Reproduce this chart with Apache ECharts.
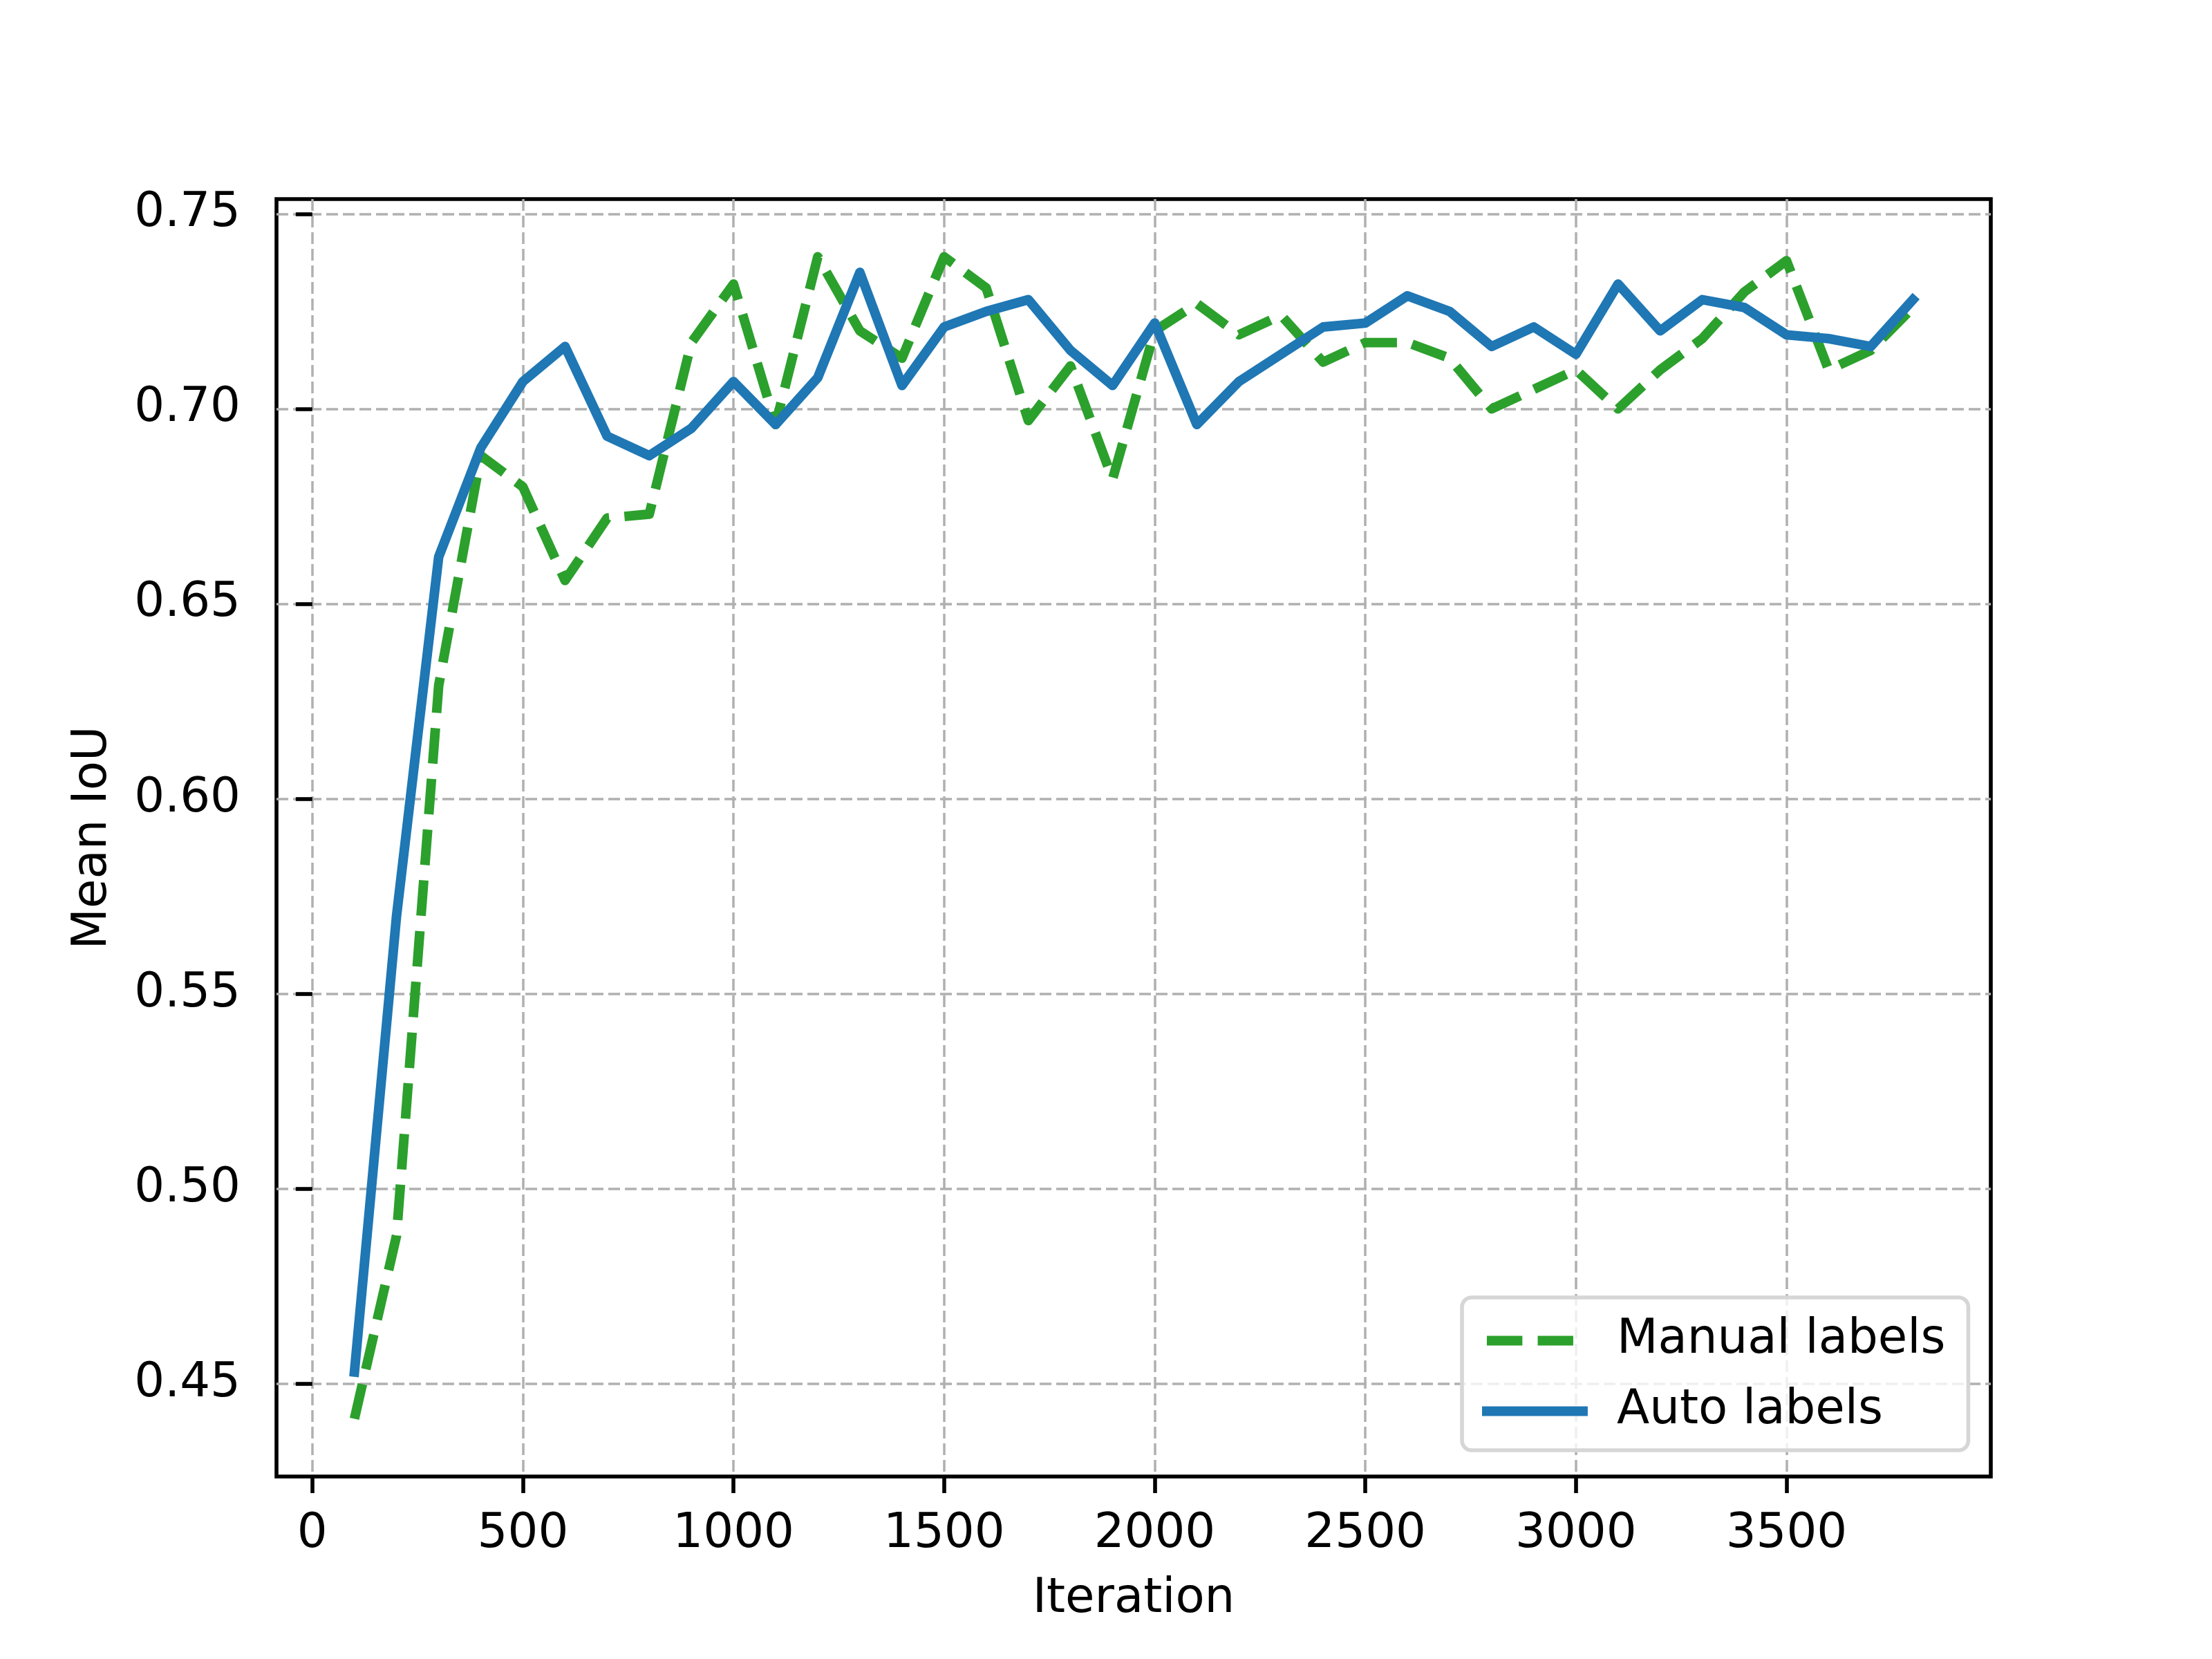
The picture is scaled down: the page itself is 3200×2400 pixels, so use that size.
<!DOCTYPE html>
<html>
<head>
<meta charset="utf-8">
<title>Mean IoU vs Iteration</title>
<script src="https://cdn.jsdelivr.net/npm/echarts@6/dist/echarts.min.js"></script>
<style>
  html, body { margin: 0; padding: 0; background: #fff; }
  #chart { width: 3200px; height: 2400px; }
</style>
</head>
<body>
<div id="chart"></div>
<script>
// data
const iterations = [100, 200, 300, 400, 500, 600, 700, 800, 900, 1000,
  1100, 1200, 1300, 1400, 1500, 1600, 1700, 1800, 1900, 2000,
  2100, 2200, 2300, 2400, 2500, 2600, 2700, 2800, 2900, 3000,
  3100, 3200, 3300, 3400, 3500, 3600, 3700, 3800];
const manualLabels = [0.441, 0.488, 0.629, 0.688, 0.680, 0.656, 0.672, 0.673, 0.717, 0.732,
  0.696, 0.739, 0.720, 0.713, 0.739, 0.731, 0.697, 0.711, 0.682, 0.720,
  0.727, 0.719, 0.724, 0.712, 0.717, 0.717, 0.713, 0.700, 0.705, 0.710,
  0.700, 0.710, 0.718, 0.730, 0.738, 0.710, 0.715, 0.726];
const autoLabels = [0.453, 0.570, 0.662, 0.690, 0.707, 0.716, 0.693, 0.688, 0.695, 0.707,
  0.696, 0.708, 0.735, 0.706, 0.721, 0.725, 0.728, 0.715, 0.706, 0.722,
  0.696, 0.707, 0.714, 0.721, 0.722, 0.729, 0.725, 0.716, 0.721, 0.714,
  0.732, 0.720, 0.728, 0.726, 0.719, 0.718, 0.716, 0.728];
const xTicks = [0, 500, 1000, 1500, 2000, 2500, 3000, 3500];
const yTicks = [0.45, 0.50, 0.55, 0.60, 0.65, 0.70, 0.75];
const seriesNames = ['Manual labels', 'Auto labels'];

const FONT = 'DejaVu Sans';
const FS = 69;

const chart = echarts.init(document.getElementById('chart'), null, { renderer: 'canvas' });

function pairs(xs, ys) {
  return xs.map((x, i) => [x, ys[i]]);
}

const gridLine = { show: true, lineStyle: { color: '#b0b0b0', width: 3.5, type: [17, 7] } };
const tick = { show: true, inside: false, length: 24, lineStyle: { color: '#000', width: 5.6 } };

const option = {
  backgroundColor: '#fff',
  animation: false,
  textStyle: { fontFamily: FONT },
  grid: {
    left: 400, top: 288, width: 2480, height: 1848,
    show: true, borderColor: '#000', borderWidth: 5.6, backgroundColor: 'transparent'
  },
  legend: {
    orient: 'vertical',
    left: 2115, top: 1877,
    padding: [28, 33, 22, 29],
    itemWidth: 139, itemHeight: 14, itemGap: 33,
    backgroundColor: 'rgba(255,255,255,0.8)',
    borderColor: '#d6d6d6', borderWidth: 5.6, borderRadius: 14,
    itemStyle: { opacity: 0, borderWidth: 0 },
    lineStyle: { width: 13.9 },
    textStyle: { fontFamily: FONT, fontSize: FS, color: '#000', padding: [0, 0, 0, 44] },
    data: seriesNames
  },
  xAxis: {
    type: 'value',
    min: -85, max: 3985,
    splitNumber: 8,
    name: 'Iteration', nameLocation: 'middle', nameGap: 144,
    nameTextStyle: { fontFamily: FONT, fontSize: FS, color: '#000' },
    axisLine: { show: false },
    axisTick: Object.assign({ customValues: xTicks }, tick),
    axisLabel: {
      customValues: xTicks, margin: 50, fontFamily: FONT, fontSize: FS, color: '#000',
      formatter: (v) => String(v)
    },
    splitLine: gridLine
  },
  yAxis: {
    type: 'value',
    min: 0.4262, max: 0.7538,
    splitNumber: 7,
    name: 'Mean IoU', nameLocation: 'middle', nameGap: 230,
    nameTextStyle: { fontFamily: FONT, fontSize: FS, color: '#000' },
    axisLine: { show: false },
    axisTick: Object.assign({ customValues: yTicks }, tick),
    axisLabel: {
      customValues: yTicks, margin: 52, fontFamily: FONT, fontSize: FS, color: '#000',
      formatter: (v) => v.toFixed(2)
    },
    splitLine: gridLine
  },
  series: [
    {
      name: seriesNames[0],
      type: 'line',
      data: pairs(iterations, manualLabels),
      symbol: 'none',
      lineStyle: { color: '#2ca02c', width: 13.9, type: [51.4, 22.2], cap: 'butt', join: 'round' },
      itemStyle: { color: '#2ca02c' },
      z: 3
    },
    {
      name: seriesNames[1],
      type: 'line',
      data: pairs(iterations, autoLabels),
      symbol: 'none',
      lineStyle: { color: '#1f77b4', width: 13.9, type: 'solid', cap: 'square', join: 'round' },
      itemStyle: { color: '#1f77b4' },
      z: 4
    }
  ]
};

chart.setOption(option);
</script>
</body>
</html>
